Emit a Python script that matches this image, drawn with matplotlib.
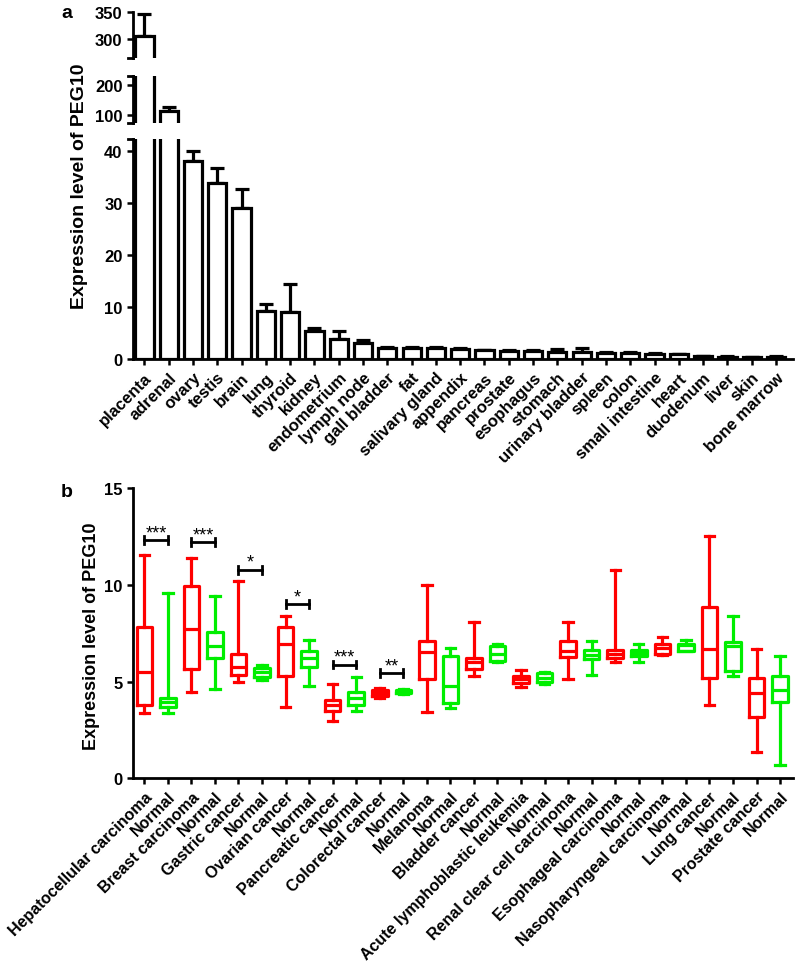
import matplotlib
matplotlib.use("Agg")
import matplotlib.pyplot as plt
import numpy as np

plt.rcParams['font.family'] = ['Liberation Sans', 'DejaVu Sans']
plt.rcParams['font.weight'] = 'bold'

# ---- panel a data ----
tissues = ['placenta', 'adrenal', 'ovary', 'testis', 'brain', 'lung', 'thyroid',
           'kidney', 'endometrium', 'lymph node', 'gall bladder', 'fat',
           'salivary gland', 'appendix', 'pancreas', 'prostate', 'esophagus',
           'stomach', 'urinary bladder', 'spleen', 'colon', 'small intestine',
           'heart', 'duodenum', 'liver', 'skin', 'bone marrow']
expr = [305, 113, 38.0, 33.9, 29.0, 9.2, 9.0, 5.3, 3.9, 3.1, 2.2, 2.2, 2.1, 1.9,
        1.7, 1.6, 1.5, 1.35, 1.25, 1.2, 1.15, 1.0, 0.9, 0.5, 0.45, 0.4, 0.45]
expr_err = [40, 13, 1.9, 2.8, 3.7, 1.3, 5.5, 0.6, 1.4, 0.6, 0.2, 0.2, 0.15, 0.15,
            0.1, 0.1, 0.15, 0.55, 0.8, 0.1, 0.1, 0.1, 0.1, 0.05, 0.05, 0.05, 0.05]

# ---- panel b data ----
groups = ['Hepatocellular carcinoma', 'Normal', 'Breast carcinoma', 'Normal',
          'Gastric cancer', 'Normal', 'Ovarian cancer', 'Normal',
          'Pancreatic cancer', 'Normal', 'Colorectal cancer', 'Normal',
          'Melanoma', 'Normal', 'Bladder cancer', 'Normal',
          'Acute lymphoblastic leukemia', 'Normal', 'Renal clear cell carcinoma', 'Normal',
          'Esophageal carcinoma', 'Normal', 'Nasopharyngeal carcinoma', 'Normal',
          'Lung cancer', 'Normal', 'Prostate cancer', 'Normal']
whis_lo = [3.36, 3.38, 4.45, 4.62, 4.97, 5.10, 3.67, 4.76, 2.98, 3.50, 4.15, 4.38, 3.45, 3.62,
           5.31, 6.00, 4.71, 4.88, 5.14, 5.34, 6.00, 6.00, 6.38, 6.58, 3.81, 5.28, 1.35, 0.70]
q1 = [3.81, 3.67, 5.65, 6.22, 5.36, 5.26, 5.28, 5.74, 3.50, 3.79, 4.25, 4.42, 5.14, 3.90,
      5.65, 6.05, 4.93, 5.00, 6.26, 6.17, 6.22, 6.31, 6.43, 6.60, 5.17, 5.54, 3.16, 3.93]
med = [5.48, 3.93, 7.72, 6.83, 5.74, 5.48, 6.95, 6.22, 3.79, 4.15, 4.40, 4.48, 6.52, 4.76,
       6.03, 6.45, 5.14, 5.20, 6.60, 6.38, 6.45, 6.48, 6.72, 6.88, 6.69, 6.83, 4.41, 4.58]
q3 = [7.84, 4.15, 9.97, 7.58, 6.43, 5.72, 7.81, 6.57, 4.05, 4.45, 4.55, 4.55, 7.10, 6.34,
      6.21, 6.85, 5.31, 5.45, 7.09, 6.65, 6.64, 6.65, 6.95, 6.96, 8.85, 7.04, 5.19, 5.31]
whis_hi = [11.57, 9.59, 11.40, 9.41, 10.19, 5.86, 8.41, 7.14, 4.88, 5.26, 4.65, 4.60, 10.0, 6.72,
           8.07, 6.95, 5.62, 5.52, 8.10, 7.12, 10.78, 6.96, 7.29, 7.17, 12.55, 8.38, 6.69, 6.31]

# significance brackets: (left index, right index, height, label)
sig_left = [0, 2, 4, 6, 8, 10]
sig_right = [1, 3, 5, 7, 9, 11]
sig_y = [12.33, 12.21, 10.79, 9.02, 5.88, 5.45]
sig_txt = ['***', '***', '*', '*', '***', '**']

RED = '#ff0000'
GREEN = '#00ee00'
LW = 2.3

fig = plt.figure(figsize=(7.97, 9.62), dpi=100)
L, W = 133 / 797, 660 / 797


def fy(py):
    return 1 - py / 962


def style(ax):
    for s in ['top', 'right']:
        ax.spines[s].set_visible(False)
    ax.spines['left'].set_linewidth(2)
    ax.spines['bottom'].set_linewidth(2)
    ax.tick_params(direction='out', length=4, width=1.8, labelsize=12)
    for t in ax.get_yticklabels():
        t.set_fontweight('bold')


# ---- panel a: three stacked segments ----
segs = [(12.5, 59, (265, 350), [300, 350]),
        (77, 124, (73, 230), [100, 200]),
        (140, 360, (0, 42.3), [0, 10, 20, 30, 40])]
x = np.arange(len(tissues))
for i, (ptop, pbot, lim, ticks) in enumerate(segs):
    ax = fig.add_axes([L, fy(pbot), W, (pbot - ptop) / 962])
    ax.bar(x, expr, width=0.75, color='white', edgecolor='black', linewidth=LW, zorder=2)
    ax.errorbar(x, expr, yerr=[np.zeros(len(expr)), expr_err], fmt='none',
                ecolor='black', elinewidth=LW, capsize=5, capthick=LW, zorder=1)
    ax.set_ylim(*lim)
    ax.set_yticks(ticks)
    ax.set_xlim(-0.47, 26.7)
    style(ax)
    tr = ax.get_yaxis_transform()
    if i > 0:
        ax.plot([-0.008, 0], [lim[1], lim[1]], color='black', lw=2, transform=tr, clip_on=False)
    if i < 2:
        ax.spines['bottom'].set_visible(False)
        ax.set_xticks([])
        ax.plot([-0.008, 0], [lim[0], lim[0]], color='black', lw=2, transform=tr, clip_on=False)
    else:
        ax.set_xticks(x)
        ax.set_xticklabels(tissues, rotation=45, ha='right', rotation_mode='anchor',
                           fontsize=12, fontweight='bold')

fig.text(80 / 797, fy(186), 'Expression level of PEG10', rotation=90, ha='center',
         va='center', fontsize=14, fontweight='bold')
fig.text(67 / 797, fy(13), 'a', ha='center', va='center', fontsize=14, fontweight='bold')

# ---- panel b: box plots ----
axb = fig.add_axes([L, fy(779.3), W, 290 / 962])
stats = []
for i in range(len(groups)):
    stats.append(dict(whislo=whis_lo[i], q1=q1[i], med=med[i], q3=q3[i],
                      whishi=whis_hi[i], fliers=[]))
pos = np.arange(len(groups))
bp = axb.bxp(stats, positions=pos, widths=0.66, capwidths=0.4, showfliers=False,
             patch_artist=False)
for i in range(len(groups)):
    c = RED if i % 2 == 0 else GREEN
    bp['boxes'][i].set(color=c, linewidth=LW)
    bp['medians'][i].set(color=c, linewidth=LW)
    for art in bp['whiskers'][2 * i:2 * i + 2] + bp['caps'][2 * i:2 * i + 2]:
        art.set(color=c, linewidth=LW)

for l, r, y, t in zip(sig_left, sig_right, sig_y, sig_txt):
    axb.plot([l, r], [y, y], color='black', lw=2)
    axb.plot([l, l], [y - 0.2, y + 0.2], color='black', lw=2)
    axb.plot([r, r], [y - 0.2, y + 0.2], color='black', lw=2)
    axb.text((l + r) / 2, y + 0.15, t, ha='center', va='baseline', fontsize=13,
             fontweight='normal')

axb.set_ylim(0, 15)
axb.set_yticks([0, 5, 10, 15])
axb.set_xlim(-0.48, 27.55)
style(axb)
axb.set_xticks(pos)
axb.set_xticklabels(groups, rotation=45, ha='right', rotation_mode='anchor',
                    fontsize=11.5, fontweight='bold')

fig.text(91 / 797, fy(636), 'Expression level of PEG10', rotation=90, ha='center',
         va='center', fontsize=13, fontweight='bold')
fig.text(67 / 797, fy(493), 'b', ha='center', va='center', fontsize=14, fontweight='bold')

fig.savefig('out.png', dpi=100)
